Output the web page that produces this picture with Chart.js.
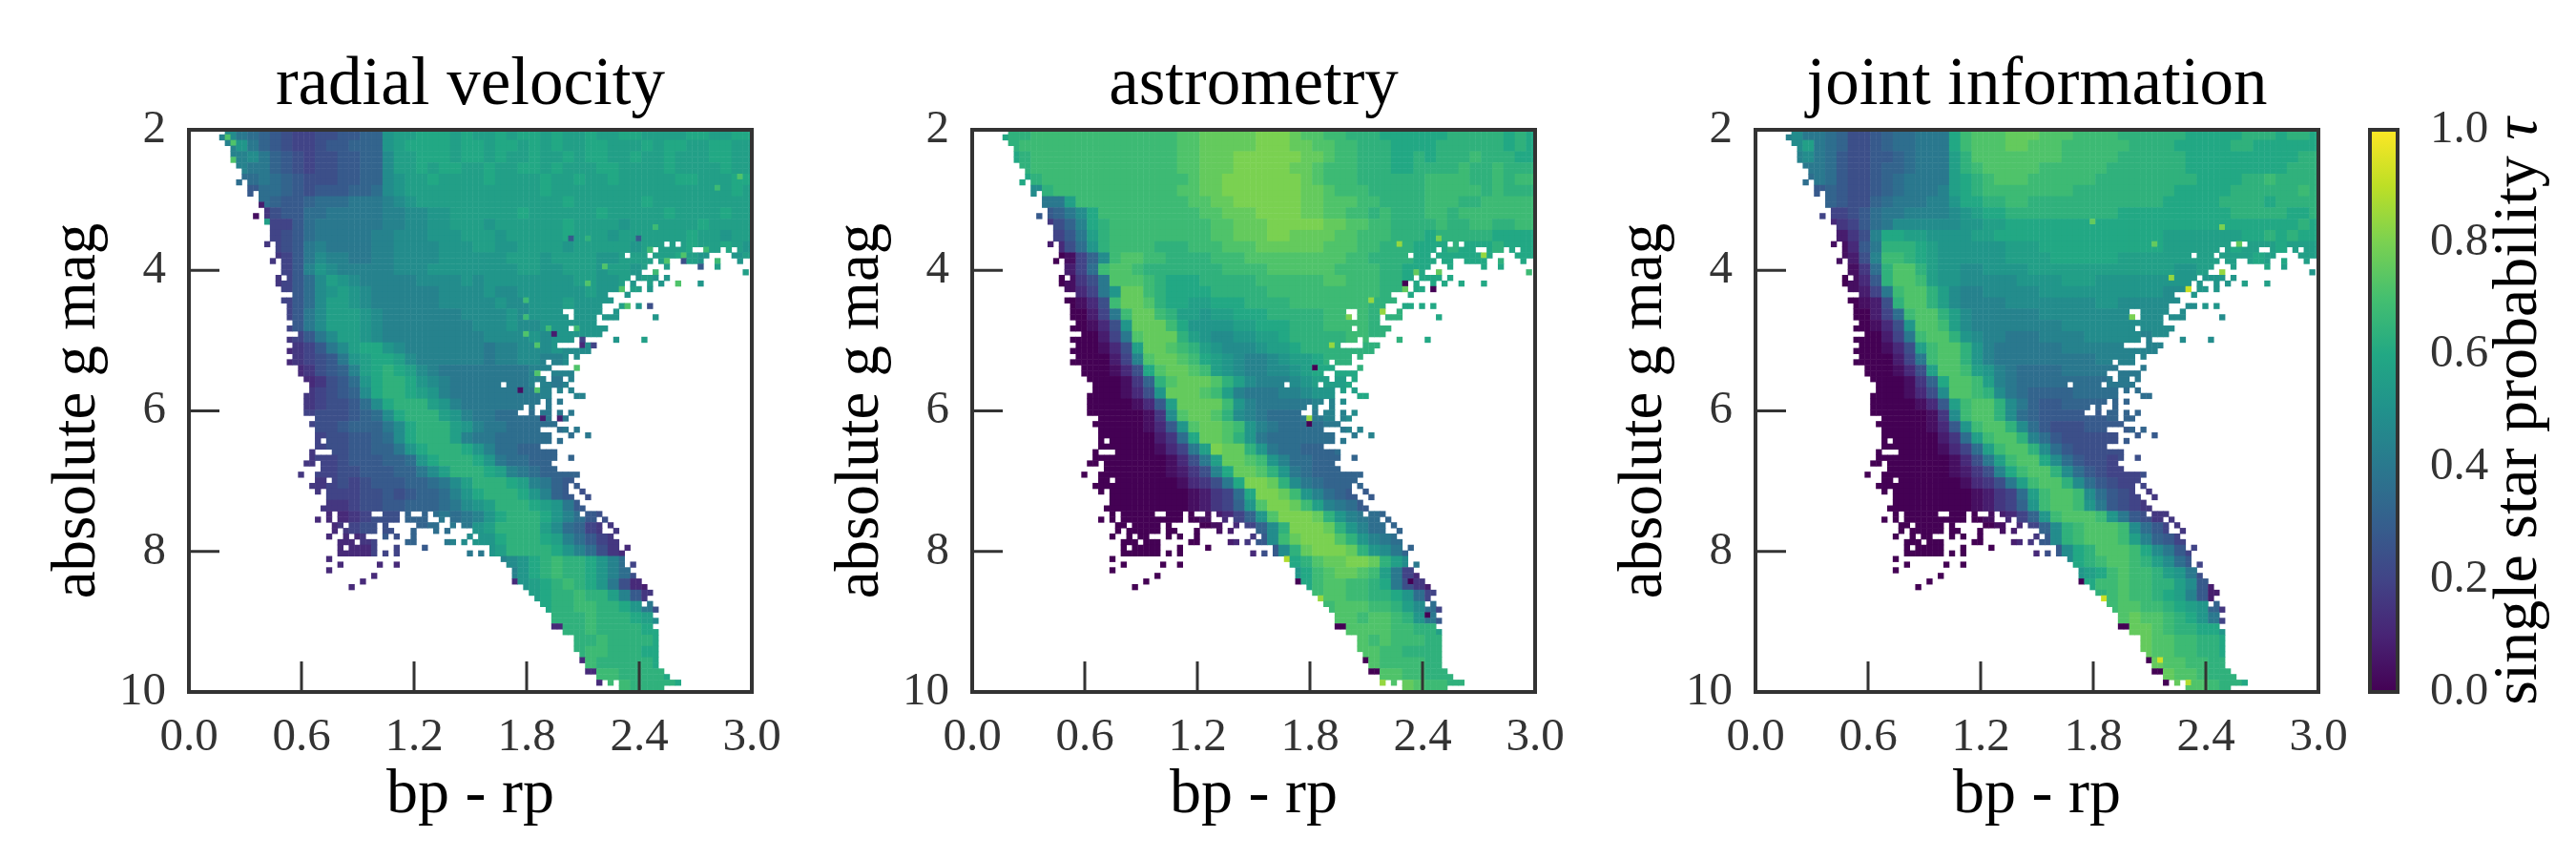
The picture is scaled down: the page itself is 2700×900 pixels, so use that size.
<!DOCTYPE html>
<html>
<head>
<meta charset="utf-8">
<title>single star probability</title>
<script src="https://cdn.jsdelivr.net/npm/chart.js@4"></script>
<style>
    html, body { margin: 0; background: #fff; }
    canvas { position: absolute; top: 0; }
</style>
</head>
<body>
<canvas id="chart1" width="814" height="900" style="left:20px"></canvas>
<canvas id="chart2" width="814" height="900" style="left:841px"></canvas>
<canvas id="chart3" width="814" height="900" style="left:1662px"></canvas>
<canvas id="chart4" width="230" height="900" style="left:2470px"></canvas>
<script>
const titles = ['radial velocity', 'astrometry', 'joint information']
const xTicks = [0, 0.6, 1.2, 1.8, 2.4, 3]
const yTicks = [2, 4, 6, 8, 10]
const barTicks = [0, 0.2, 0.4, 0.6, 0.8, 1]
const viridis = ['#440154', '#482475', '#414487', '#355f8d', '#2a788e', '#21918c', '#22a884', '#44bf70', '#7ad151', '#bddf26', '#fde725']

// occupied cells of the 100 x 100 histogram, one list of [from, to, from, to...] per row
const rowSpans = [
    [6,99], [5,99], [6,99], [7,99], [7,99], [7,99], [8,99], [9,99], [9,99], [8,8,10,99],
    [10,99], [10,10,12,99], [12,99], [12,99], [13,99], [11,11,13,99], [13,99], [14,99], [14,99], [14,99],
    [13,13,15,83,85,85,87,99], [15,81,83,88,91,93,95,95,97,99], [15,76,78,80,82,91,96,99], [14,14,16,81,83,84,87,90,93,93,97,97], [16,80,84,84,90,90,93,93],
    [16,79,82,82,98,98], [15,15,17,77,79,82,84,84], [15,76,78,78,81,81,83,83,86,86,90,90], [16,76,78,79,81,81], [18,73,77,77],
    [16,74], [17,72,76,77,79,79,81,81], [17,65,68,72,75,75], [17,66,68,71,73,75,82,82], [18,71],
    [17,66,68,73], [19,72], [17,67,69,69,75,75,80,80], [18,64,69,71], [17,70],
    [18,66,68,68], [17,62,64,66], [19,63,68,68], [19,61,64,67], [20,62,64,65,67,67],
    [21,54,56,60,62,66], [21,63,65,65,67,67], [20,63,68,69], [20,61,63,63,65,65], [20,58,60,60,63,63],
    [20,57,60,60,62,63,65,65,67,67], [22,63,65,66], [21,64], [22,61,65,66,68,68], [22,63,67,67,70,70],
    [22,22,24,63,65,65], [22,61], [21,21,25,64], [21,64,67,67], [20,21,23,63],
    [23,64], [19,19,22,68], [22,23,25,67], [21,66,68,68], [22,22,24,66,69,69],
    [24,67,70,70], [24,68], [23,69], [24,24,26,31,34,36,38,38,41,41,43,68,70,72], [22,22,24,24,26,36,38,41,44,44,46,71,73,73],
    [25,26,28,32,34,34,40,43,46,46,48,72,74,74], [25,25,27,32,34,35,39,39,43,43,45,45,50,72,75,75], [24,24,27,27,29,30,34,34,36,36,39,39,49,49,51,74], [26,28,30,32,38,39,45,46,48,48,50,75], [26,26,28,32,36,36,41,41,53,75,77,77],
    [26,32,34,34,36,36,49,49,51,51,53,76], [24,24,55,76], [26,26,33,33,36,36,56,76,78,78], [24,24,57,77], [32,32,57,78],
    [30,30,57,79], [28,28,59,80], [60,81], [61,80], [62,79,81,81],
    [63,82], [64,81], [64,82], [64,81], [66,82],
    [68,82], [68,82], [68,82], [69,82], [69,82],
    [70,82], [70,83], [72,84], [72,72,74,74,76,86], [76,83]
]

// probability per 2 x 2 block of cells, a = 0.00, b = 0.04, c = 0.08 ... a short row repeats its last letter
const radialRows = [
    'lllmkjihgffgghhiinoopppopoopoppopoopooppooooppoopp',
    'llllnkihgffghhiiinoppppoppoppopopooppooopoppooppo',
    'lllllmkihgfgghhiimoopppoppopoopoopoppoopoopoooppo',
    'lllllkkihgfgghhiimoopoppoopooppopoooppoooopoooopoo',
    'jjjjjjkjihggghhiimnoopoooopoooopoopoopoooooppooop',
    'hhhhhhjjihghhhiijmnoooooooooooopoooooooooooooooopo',
    'ggggggjihhijjjkkklmnooooooooooooopoooooopoooooooooo',
    'ffffffeghhjjkkkkkllmmnnoooooopoooooopooooopoooopooo',
    'eeeeeeeffhjkkkkkkllmmnnooonoooooopoooonoooooopoooo',
    'eeeeeeefghjkkkkkllmmmnnnooonooooopooonoooooopoonoo',
    'eeeeeeefghklkkkkllmmmmnnnoonnoooonooooonoooopoopono',
    'eeeeeeeefhkmllkkllmmmmnnnnnnooonoooonnoooooponoonoo',
    'eeeeeeeefhlnmlllllmmmnnnnnnnnoonnooonoonooooonoopo',
    'eeeeeeeefhjmonmlllllmmmmnmnnnnnnnnoonnononnoonnonoo',
    'ddddddddfhjmnonmllllllmmmmnmmnnnnnnonnnonnoonnnonon',
    'ddddddddfhjmoonmllllllmmmmmnmmnnnonnnnonnonnonono',
    'dddddddefhkmooonmlllllllmmmmnmnnnnnnnnnoonnnonnnn',
    'dddddddefhkmooonmllllllllmmmnmmnnnnnnnonnnonnnn',
    'ddddddddefhkmoonmlllllllllmmmmnmnnnnnnnnonnnnn',
    'dddddddddefhkmoppnmlllllllkllmmmnmmmnnnnonnonnn',
    'dddddddddefghknoppomllllllkllmmllmmmnnonnnnnnmn',
    'ddddddddddeghilopqpomlkkkkkkkkllllllmmmmnmonnonmn',
    'dddddddddddeghjnpqqpnmlkkkkkkkllkllllllmmmmonmmm',
    'eeeeeeeeeeefghimpqqponlkkkkkkkkllllkllllmmnmnmm',
    'eeeeeeeeeeefgghjmpqqqonlkkkkkkkkkkkkllkllllmmlm',
    'fffffffffffggghijmpqqqonlkkjjjjkkkklkkllmmll',
    'fffffffffffgghiiikmpqqqonlkkjjjjjkkkkkllkkll',
    'ffffffffffffgghhijmpqqqolkkjjjjjjjjkkkkkklk',
    'eeeeeeeeeeefgghhiiknpqqqpnljjiiiijjjjjkjjkjj',
    'eeeeeeeeeeeffghhhiijnpqqqpnkjjiiiiijjjjjjjj',
    'eeeeeeeeeeeffgghhhiikmoqqqpolkjiiiiiijjijjj',
    'eeeeeeeeeeeefgfghhhiijkmoqqqpolkihhhgghhhh',
    'eeeeeeeeeeeefffgghghiijlnpqqqpnlihggfffgg',
    'eeeeeeeeeeeeeefgghhiiijkmnoqqqponkhgfffee',
    'ddddddddddddddefgggiijkjklnpqqqpnljhgfee',
    'dddddddddddddefggghiijjkknoqqqqomjifeed',
    'dddddddddddddddefhgiijklmnnpqqqpoljhfecd',
    'ddddddddddddddddfffhhijkkknoqqqqpnljgedc',
    'ddddddddddddddddddddddddddklmnpqrqqpnljfcd',
    'ddddddddddddddddddddddddddddlnpqrqqpnljgec',
    'dddddddddddddddddddddddddddddnopqrqpnkgdc',
    'ddddddddddddddddddddddddddddddopqqrqqolhec',
    'dddddddddddddddddddddddddddddddpqqrrqqpnkgd',
    'ddddddddddddddddddddddddddddddddqqqrqqqpomifd',
    'dddddddddddddddddddddddddddddddddqqrqqqqpponmj',
    'ddddddddddddddddddddddddddddddddddqqrqqqqppoonlk',
    'ddddddddddddddddddddddddddddddddddqrrqqqpppoonm',
    'dddddddddddddddddddddddddddddddddddrqqqqqppoonlk',
    'ddddddddddddddddddddddddddddddddddddrrqqqqpponm',
    'dddddddddddddddddddddddddddddddddddddrrqqqqppoonk'
]

const astrometryRows = [
    'oppqqrrrrrrrrrrrrrsstttttuuutssrrqqqppppppqqqqqpqp',
    'oppqrrrrrrrrrrrrrrsstttttuuuttssrrqqqppppqqqqqqpqp',
    'ooppqrrrrrrrrrrrrrsstttuuuuuuttsrrqqqppqpqqqrqqqpp',
    'ooooqrrrrrrrrrrrrrsstttuuuuuttsrrrqqqppqqqqrqqrqq',
    'oooopqrrrrrrrrrrrrrsttuuuuuuutsrrrqqqqqqrrrrqqrqr',
    'kkkkkmqrrrrrrrrrrrssttuuuuuuuttsrrrqqqqqrrrrrqrq',
    'iiiiiikkorrrrrrrrrrssttuuuuuuttsssrrqqqqrrrqqrrrr',
    'hhhhhhhikmprrrrrrrrrsstttuuuuttssrrqrqqqrrqrrrrrr',
    'eeeeeeegilpqrrrrrrrrrsstttuuuuuttssrrqqqqrqqrrqqr',
    'dddddddfhkoqrrrrrrrrrsstttuuttttssrrrqqqpqqqqqppp',
    'cccccccdgjnqrrrrqqqrrrsssttttttsssrrqqqpppqpppqpp',
    'aaaaaaaabfimrssrrqqqqrrrsssssssssrrqqqqpppppppqpp',
    'aaaaaaaacfjrssrqqqqqqqrrrrssssssrrrrqqpppppppppqp',
    'aaaaaaaabegksssrqpppqqqqqrrrrrrssrrrqqppppppppppp',
    'aaaaaaaabdfknttrqppppqqqqqrrrrrrrrrrqqpppppppppp',
    'aaaaaaaaabdgrttsqppoopppqqqqrrrrrrrqqqppppppppppp',
    'aaaaaaaaaacfkrttrqoonoopppqqqqqrrrrqqqppppppppppp',
    'aaaaaaaaaabdgntttrpnnnnoopppqqqrrrrqqqqqppppppppp',
    'aaaaaaaaaaacfkstttqonmmnnoopqqqqqrrqqqqqpppppppppp',
    'aaaaaaaaaaabdgottsrqonmmmnoopqqqqqqqqrrqqppppoopppp',
    'aaaaaaaaaaaacflsttsrponmllmnoopqqqqqqqrqqppppppppp',
    'aaaaaaaaaaaabdgpsttsronmllmmnoppppqqqqqqrqpppppppp',
    'aaaaaaaaaaaaabeiqstttsqomlllmnoooppqqqqqqrqpppppp',
    'aaaaaaaaaaaaabdgntttsrolkkkllmnnoopppqqqqrqpppp',
    'aaaaaaaaaaaaaabdhottttrnlkkkkkllmmnnoopppqqrqq',
    'aaaaaaaaaaaaaaabemsttsqmlkjjjkkllmmnnooppqrqp',
    'aaaaaaaaaaaaaaabdhnsttsrnlkjjjjkkllmmnnoopppqq',
    'aaaaaaaaaaaaaaaacejpttsqnkjjjjjjkkkllmmnnoopp',
    'aaaaaaaaaaaaaaaabdfkouttqnkjjiiijjjkklllmmnnoo',
    'aaaaaaaaaaaaaaaaabdgkottsrnljjiiiiijjjkkklmmn',
    'aaaaaaaaaaaaaaaaabceglpttsqnkjiiiiiijjkkklllm',
    'aaaaaaaaaaaaaaaaaabdegkpuutqmkjiiiiiiijjjkkkk',
    'aaaaaaaaaaaaaaaaaaabcefjpuutrnljihhhhhiiijjjj',
    'aaaaaaaaaaaaaaaaaaabcefinsuutrolkjhhhhhhhhhhg',
    'aaaaaaaaaaaaaaaaaaaabcdfinsuuutqnlkjihgggfffff',
    'aaaaaaaaaaaaaaaaaaaaabcdfimquuutqnljjihgggfeee',
    'aaaaaaaaaaaaaaaaaaaaabcdehmrtuuusqnlkjihgfe',
    'aaaaaaaaaaaaaaaaaaaaaabcdghmqtuuutqnmkihgfec',
    'aaaaaaaaaaaaaaaaaaaaaaaaaalmpqsttuutqomkihfed',
    'aaaaaaaaaaaaaaaaaaaaaaaaaaaanprsttsrokfd',
    'aaaaaaaaaaaaaaaaaaaaaaaaaaaaaprssrrqpkgec',
    'aaaaaaaaaaaaaaaaaaaaaaaaaaaaaarssrrqqpnjfd',
    'aaaaaaaaaaaaaaaaaaaaaaaaaaaaaaarsssrrqomjfe',
    'aaaaaaaaaaaaaaaaaaaaaaaaaaaaaaaassrssrqnkhe',
    'aaaaaaaaaaaaaaaaaaaaaaaaaaaaaaaaassssrrqqonkh',
    'aaaaaaaaaaaaaaaaaaaaaaaaaaaaaaaaaasrsrrrqqponlj',
    'aaaaaaaaaaaaaaaaaaaaaaaaaaaaaaaaaassrrqqqqpool',
    'aaaaaaaaaaaaaaaaaaaaaaaaaaaaaaaaaaasrrrrqqppoom',
    'aaaaaaaaaaaaaaaaaaaaaaaaaaaaaaaaaaaassrrqqqqpnoh',
    'aaaaaaaaaaaaaaaaaaaaaaaaaaaaaaaaaaaaastsrrqqpnmki'
]

const jointRows = [
    'lllmkkjigghijjkkkprssstttsssrrrrqqqqqqpppppqqqpqqpppqqpp',
    'lllmokjigghijjkkkprsssttsssrrrrrrqqqqpppppqqppppppqqpqp',
    'llllmkjhgghhijkkkoqssssssssrrrrrqqqqqqppppppppppqqqppq',
    'llllkkjhgghiijkkkoqrsssssrrrrrrqqqqqqqpppppppppqqqqqq',
    'jjjjjkjhgghijkkkkopqrsssrrrrrrqqqqqqqqqppppqqrqqqqqr',
    'hhhhhhihgghijkkklopqrrrrrrrrqqqqqqqqqpppppqqqqqqrqqqq',
    'ggggggihggijkkkllnppqqrrqqqqqqqqqqqqpppppqqqqpqqqqpqq',
    'ffffffffghjkkllllmnoppqqqqqqqqqqppppppppppqqqqqppqqqq',
    'dddddddefhjkmmmmmmnnooppppppppppppppppppppppppppqpqqqpp',
    'cccccccceglppoonnnnoopppppppppppppppoooooooppqpqpppp',
    'bbbbbbbbdhkqqqponnnnnnooopppppppppppoooooopooopoooo',
    'bbbbbbbbcglrrqponnnnnnooooppppppoooooooooooopopooo',
    'aaaaaaaabejqssqonnmmnnnnooooooooooooonnoooonopooono',
    'aaaaaaaabdhqssronnmmmmmnnnnooonnnnnnnnnnnnnooonnnoo',
    'aaaaaaaabcfkrssqomllmmmmmnnnnnnnnnnnmmnnnnnnnnnoon',
    'aaaaaaaaabcgqssqomllllmmmmmmmmnnmmmmmmmnnnnnnnnnnn',
    'aaaaaaaaaacfjrssqomllllllmmmmmmmmmmmmmmmmmnnnnnnn',
    'aaaaaaaaaabdgnssromllllllllmmmmmmmmmmmmmmmmnnnnnn',
    'aaaaaaaaaaacfkrssqnmllkkkllllmmmmmlmmmmmmmmmmmmn',
    'aaaaaaaaaaabdgorssqnlkkkkkkllllllllllllmmmmmmmmmm',
    'aaaaaaaaaaaacfkrssqnlkkkkkkkkkllllllllllmmmmmmmmm',
    'aaaaaaaaaaaabdgossronlkjjjjkkkkkkkkkklllllmmmmmmm',
    'aaaaaaaaaaaaabeipssrolkjjjjjjjjkkkkkkkkklllllllll',
    'aaaaaaaaaaaaabdgmssrqmkjiiiijjjjjjjjkkkkkkklllllll',
    'aaaaaaaaaaaaaabdhorssqmkihhiiiiiiijjjjjkkkkjkkkkkk',
    'aaaaaaaaaaaaaaabemrssqmjihhhhhhiiiiiijjjjjjjkkkkkkk',
    'aaaaaaaaaaaaaaabdhnrssqmjhggghhhhiiiiiijjjjjjjjjjj',
    'aaaaaaaaaaaaaaaacejorssqljhggggghhhhhiiiijjjjjjjjj',
    'aaaaaaaaaaaaaaaabdfjorssqmjhggggggghhhhiiiiiiijjjjj',
    'aaaaaaaaaaaaaaaaabdgkorsspmjhggfggggghhhhhhiiiii',
    'aaaaaaaaaaaaaaaaabceglprssqmjhgfffggggghhhhgggg',
    'aaaaaaaaaaaaaaaaaabdegkorssqmjhgfffffffggggggggg',
    'aaaaaaaaaaaaaaaaaaabcefjorssrmjhgfeeeeffffffff',
    'aaaaaaaaaaaaaaaaaaabcefinrssrnkhgfeeeeeeeddd',
    'aaaaaaaaaaaaaaaaaaaabcdfinrsssrnkhgeedddccc',
    'aaaaaaaaaaaaaaaaaaaaabcdfimqrsssrmjhfedccbb',
    'aaaaaaaaaaaaaaaaaaaaabcdehmqrsssrolihfedcba',
    'aaaaaaaaaaaaaaaaaaaaaabcdghmpqsssrpmkhfedca',
    'aaaaaaaaaaaaaaaaaaaaaaaaaalmpqrssrqomjhfdca',
    'aaaaaaaaaaaaaaaaaaaaaaaaaaaanoprsrrqonkgdb',
    'aaaaaaaaaaaaaaaaaaaaaaaaaaaaaprrsrrqqomhcaa',
    'aaaaaaaaaaaaaaaaaaaaaaaaaaaaaaqrsrrqpolhca',
    'aaaaaaaaaaaaaaaaaaaaaaaaaaaaaaarssrrqponiea',
    'aaaaaaaaaaaaaaaaaaaaaaaaaaaaaaaastssrqpnkfba',
    'aaaaaaaaaaaaaaaaaaaaaaaaaaaaaaaaattsrqqppnkfc',
    'aaaaaaaaaaaaaaaaaaaaaaaaaaaaaaaaaatssrrqqpokgd',
    'aaaaaaaaaaaaaaaaaaaaaaaaaaaaaaaaaatssrrqqppolh',
    'aaaaaaaaaaaaaaaaaaaaaaaaaaaaaaaaaaatssrrqqpomki',
    'aaaaaaaaaaaaaaaaaaaaaaaaaaaaaaaaaaaatssrqqqpplgi',
    'aaaaaaaaaaaaaaaaaaaaaaaaaaaaaaaaaaaaatssrqqpolkgi'
]

// single cells that stand out from their block: column, row, letter
const radialSpecks = [
    [97,8,'s'], [93,10,'r'], [82,17,'r'], [70,19,'q'], [67,19,'h'], [79,19,'h'], [81,21,'r'], [91,21,'r'], [87,22,'s'],
    [84,23,'s'], [93,23,'r'], [73,24,'s'], [87,23,'g'], [90,24,'h'], [70,27,'s'], [76,28,'s'], [86,27,'s'], [82,25,'r'],
    [77,31,'s'], [81,31,'g'], [59,30,'r'], [59,33,'r'], [68,35,'r'], [63,35,'r'], [59,36,'s'], [64,36,'c'], [69,37,'f'],
    [69,38,'d'], [71,38,'f'], [61,38,'s'], [68,42,'s'], [61,43,'s'], [58,46,'b'], [61,46,'s'], [62,51,'c'], [65,51,'c'],
    [6,1,'s'], [7,2,'s'], [7,5,'s'], [13,16,'o'], [11,15,'b'], [12,13,'c']
]
const astrometrySpecks = [
    [82,19,'u'], [75,20,'v'], [90,22,'v'], [78,25,'t'], [82,25,'t'], [76,28,'t'], [70,30,'v'], [72,32,'v'], [66,33,'u'],
    [63,38,'v'], [60,42,'a'], [62,43,'t'], [59,51,'v'], [59,52,'a'], [55,76,'w'], [77,76,'a'], [77,80,'a'], [61,83,'v'],
    [80,86,'a'], [72,98,'v'], [98,25,'r'], [81,28,'a'], [76,27,'a']
]
const jointSpecks = [
    [82,17,'u'], [70,20,'t'], [85,20,'t'], [82,25,'v'], [73,26,'v'], [76,28,'x'], [66,33,'u'], [59,16,'t'], [61,83,'x'],
    [71,94,'x'], [73,98,'x'], [76,98,'w']
]

const serif = '"Liberation Serif", serif'
const ink = '#333333'

function viridisColor(value) {
    const pos = Math.min(value, 1) * (viridis.length - 1)
    const low = Math.floor(pos)
    const high = Math.min(low + 1, viridis.length - 1)
    const rgb = c => [1, 3, 5].map(n => parseInt(c.substr(n, 2), 16))
    const a = rgb(viridis[low]), b = rgb(viridis[high])
    const t = pos - low
    return `rgb(${a.map((v, n) => Math.round(v + (b[n] - v) * t)).join(',')})`
}

function buildCells(rows, specks) {
    const points = [], colors = []
    const speckAt = {}
    specks.forEach(([i, j, letter]) => { speckAt[i + ',' + j] = letter })
    rowSpans.forEach((spans, j) => {
        const row = rows[Math.floor(j / 2)]
        for (let k = 0; k < spans.length; k += 2) {
            for (let i = spans[k]; i <= spans[k + 1]; i++) {
                const letter = speckAt[i + ',' + j] || row[Math.floor(i / 2)] || row[row.length - 1]
                points.push({ x: 0.0126 + (i + 0.5) * 0.03, y: 2 + (j + 0.35) * 0.08 })
                colors.push(viridisColor((letter.charCodeAt(0) - 97) * 0.04))
            }
        }
    })
    return { points, colors }
}

// box round the axes and the inward ticks, over the cells
const framePlugin = {
    id: 'frame',
    afterDatasetsDraw(chart, args, opts) {
        const { ctx, chartArea: area, scales } = chart
        ctx.save()
        ctx.strokeStyle = ink
        if (opts.ticks) {
            ctx.lineWidth = 3
            ctx.beginPath()
            xTicks.forEach(v => {
                const px = scales.x.getPixelForValue(v)
                ctx.moveTo(px, area.bottom)
                ctx.lineTo(px, area.bottom - 32)
            })
            yTicks.forEach(v => {
                const py = scales.y.getPixelForValue(v)
                ctx.moveTo(area.left, py)
                ctx.lineTo(area.left + 32, py)
            })
            ctx.stroke()
        }
        ctx.lineWidth = 4
        ctx.strokeRect(area.left, area.top, area.right - area.left, area.bottom - area.top)
        ctx.restore()
    }
}

function printPanel(id, rows, specks, title) {
    const { points, colors } = buildCells(rows, specks)
    const data = {
        datasets: [{
            data: points,
            pointStyle: 'rect',
            pointRadius: 4.5,
            pointBorderWidth: 0,
            pointBackgroundColor: colors
        }]
    }
    const options = {
        responsive: false,
        animation: false,
        devicePixelRatio: 1,
        events: [],
        layout: { padding: { right: 46 } },
        plugins: {
            legend: { display: false },
            tooltip: { enabled: false },
            title: {
                display: true,
                fullSize: false,
                text: title,
                color: '#000',
                font: { family: serif, size: 71, weight: 'normal', lineHeight: 1 },
                padding: { top: 55, bottom: 10 }
            },
            frame: { ticks: true }
        },
        scales: {
            x: {
                type: 'linear', min: 0, max: 3,
                grid: { display: false }, border: { display: false },
                afterBuildTicks: s => { s.ticks = xTicks.map(value => ({ value })) },
                afterFit: s => { s.height = 175 },
                ticks: {
                    autoSkip: false, maxRotation: 0, minRotation: 0, padding: 11, color: ink,
                    font: { family: serif, size: 49 },
                    callback: v => v.toFixed(1)
                },
                title: {
                    display: true, text: 'bp - rp', color: '#000',
                    font: { family: serif, size: 66, lineHeight: 1 },
                    padding: { top: 0, bottom: 33 }
                }
            },
            y: {
                type: 'linear', min: 2, max: 10, reverse: true,
                grid: { display: false }, border: { display: false },
                afterBuildTicks: s => { s.ticks = yTicks.map(value => ({ value })) },
                afterFit: s => { s.width = 178 },
                ticks: {
                    autoSkip: false, padding: 16, color: ink,
                    font: { family: serif, size: 49 },
                    callback: v => String(v)
                },
                title: {
                    display: true, text: 'absolute g mag', color: '#000',
                    font: { family: serif, size: 65, lineHeight: 1 },
                    padding: { top: 29, bottom: 0 }
                }
            }
        }
    }
    new Chart(id, { type: 'scatter', data, options, plugins: [framePlugin] })
}

// label reads upward, which a right hand scale title cannot do
const barLabelPlugin = {
    id: 'barLabel',
    afterDraw(chart) {
        const { ctx } = chart
        const main = 'single star probability '
        ctx.save()
        ctx.translate(188, 431)
        ctx.rotate(-Math.PI / 2)
        ctx.fillStyle = '#000'
        ctx.textBaseline = 'alphabetic'
        ctx.font = `66px ${serif}`
        const mainWidth = ctx.measureText(main).width
        ctx.font = `italic 66px ${serif}`
        const tauWidth = ctx.measureText('τ').width
        const start = -(mainWidth + tauWidth) / 2
        ctx.fillText('τ', start + mainWidth, 0)
        ctx.font = `66px ${serif}`
        ctx.fillText(main, start, 0)
        ctx.restore()
    }
}

function printColorbar() {
    const data = {
        labels: ['τ'],
        datasets: [{
            data: [[0, 1]],
            barPercentage: 1,
            categoryPercentage: 1,
            backgroundColor: ctx => {
                const area = ctx.chart.chartArea
                if (!area) return viridis[5]
                const gradient = ctx.chart.ctx.createLinearGradient(0, area.bottom, 0, area.top)
                viridis.forEach((c, n) => gradient.addColorStop(n / (viridis.length - 1), c))
                return gradient
            }
        }]
    }
    const options = {
        responsive: false,
        animation: false,
        devicePixelRatio: 1,
        events: [],
        layout: { padding: { left: 14, top: 136, bottom: 175 } },
        plugins: {
            legend: { display: false },
            tooltip: { enabled: false },
            frame: { ticks: false }
        },
        scales: {
            x: { display: false },
            y: {
                position: 'right', min: 0, max: 1,
                grid: { display: false }, border: { display: false },
                afterBuildTicks: s => { s.ticks = barTicks.map(value => ({ value })) },
                afterFit: s => { s.width = 187 },
                ticks: {
                    autoSkip: false, padding: 26, color: ink,
                    font: { family: serif, size: 49 },
                    callback: v => v.toFixed(1)
                }
            }
        }
    }
    new Chart('chart4', { type: 'bar', data, options, plugins: [framePlugin, barLabelPlugin] })
}

printPanel('chart1', radialRows, radialSpecks, titles[0])
printPanel('chart2', astrometryRows, astrometrySpecks, titles[1])
printPanel('chart3', jointRows, jointSpecks, titles[2])
printColorbar()
</script>
</body>
</html>
